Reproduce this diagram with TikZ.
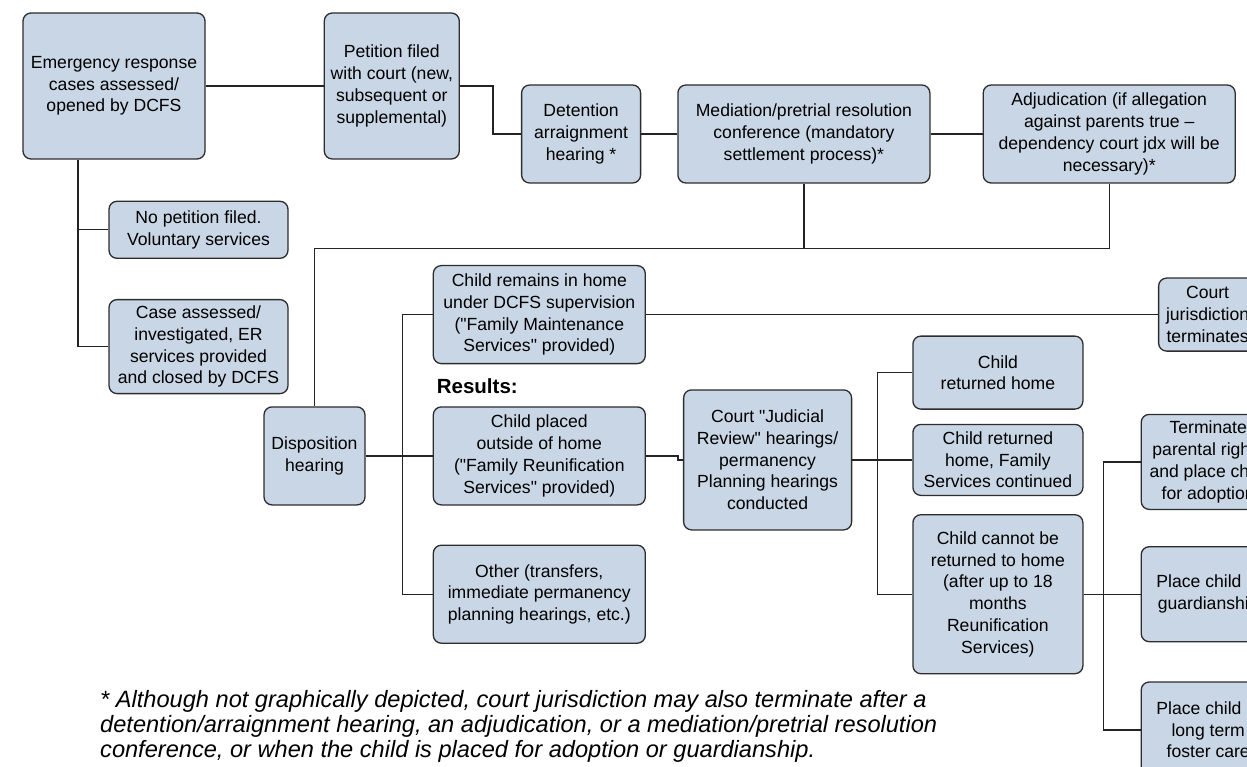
\documentclass[tikz,border=0pt]{standalone}
\usepackage{fontspec}
\setmainfont{Liberation Sans}
\newfontfamily\cajafont{Liberation Sans}
\usetikzlibrary{positioning}
\definecolor{figCaja}{RGB}{201,214,229}
\definecolor{figCajaBorde}{RGB}{45,45,45}
\definecolor{figLinea}{RGB}{35,35,35}
\tikzset{
  paso/.style={
    rectangle, rounded corners=8pt, draw=figCajaBorde, line width=1.3pt,
    fill=figCaja, align=center, font=\cajafont\fontsize{17.6}{21.7}\selectfont,
    inner sep=2pt
  },
  conector/.style={line width=1.4pt, draw=figLinea},
  titulo/.style={font=\fontsize{20.5}{24}\selectfont\bfseries, inner sep=0pt},
  nota/.style={align=left, inner sep=0pt, font=\fontsize{23.6}{24.6}\selectfont\itshape}
}

\begin{document}
\begin{tikzpicture}
  \useasboundingbox (0,0) rectangle (1247pt,-767pt);
  \clip (0,0) rectangle (1247pt,-767pt);

  % top row
  \node[paso, minimum width=182pt, minimum height=146pt] (emerg) at (114pt,-86pt) {Emergency response\\cases assessed/\\opened by DCFS};
  \node[paso, right=118pt of emerg, minimum width=135pt, minimum height=146pt] (petition) {Petition filed\\with court (new,\\subsequent or\\supplemental)};
  \node[paso, right=61pt of petition, yshift=-48pt, minimum width=119pt, minimum height=98pt] (detention) {Detention\\arraignment\\hearing *};
  \node[paso, right=36pt of detention, minimum width=252pt, minimum height=98pt] (mediation) {Mediation/pretrial resolution\\conference (mandatory\\settlement process)*};
  \node[paso, right=52pt of mediation, minimum width=252pt, minimum height=98pt] (adjud) {Adjudication (if allegation\\against parents true –\\dependency court jdx will be\\necessary)*};

  % left column
  \node[paso, below=41pt of emerg, xshift=84.5pt, minimum width=179pt, minimum height=57pt] (nopet) {No petition filed.\\Voluntary services};
  \node[paso, below=40pt of nopet, minimum width=179pt, minimum height=94pt] (caseass) {Case assessed/\\investigated, ER\\services provided\\and closed by DCFS};
  \node[paso, below=12pt of caseass, xshift=116pt, minimum width=101pt, minimum height=98pt] (dispo) {Disposition\\hearing};

  % results
  \node[paso, right=67pt of dispo, minimum width=212pt, minimum height=98pt] (placed) {Child placed\\outside of home\\("Family Reunification\\Services" provided)};
  \node[paso, above=42pt of placed, minimum width=212pt, minimum height=98pt] (remains) {Child remains in home\\under DCFS supervision\\("Family Maintenance\\Services" provided)};
  \node[paso, below=39pt of placed, minimum width=212pt, minimum height=98pt] (other) {Other (transfers,\\immediate permanency\\planning hearings, etc.)};
  \node[titulo, above=12pt of placed.north west, anchor=south west, xshift=4pt] (results) {Results:};
  \node[paso, right=37pt of placed, yshift=-4pt, minimum width=168pt, minimum height=140pt] (review) {Court "Judicial\\Review" hearings/\\permanency\\Planning hearings\\conducted};

  % review outcomes
  \node[paso, right=60pt of review, minimum width=170pt, minimum height=71pt] (home2) {Child returned\\home, Family\\Services continued};
  \node[paso, above=14pt of home2, minimum width=170pt, minimum height=73pt] (home1) {Child\\returned home};
  \node[paso, below=18pt of home2, minimum width=170pt, minimum height=159pt] (cannot) {Child cannot be\\returned to home\\(after up to 18\\months\\Reunification\\Services)};

  % right edge (cut by the page)
  \node[paso, right=512pt of remains, minimum width=98pt, minimum height=73pt] (courtj) {Court\\jurisdiction\\terminates};
  \node[paso, right=57pt of home2, yshift=-2pt, minimum width=134pt, minimum height=95pt] (terminate) {Terminate\\parental rights\\and place child\\for adoption};
  \node[paso, right=57pt of cannot, minimum width=134pt, minimum height=95pt] (guard) {Place child in\\guardianship};
  \node[paso, below=39pt of guard, minimum width=134pt, minimum height=96pt] (foster) {Place child in\\long term\\foster care};

  % connectors
  \draw[conector] (emerg) -- (petition);
  \draw[conector] (petition.east) -- ++(33pt,0) |- (detention.west);
  \draw[conector] (detention) -- (mediation);
  \draw[conector] (mediation) -- (adjud);
  \draw[conector] (mediation.south) -- ++(0,-65pt) coordinate (juntaMed);
  \draw[conector] (adjud.south) |- (juntaMed) -| (dispo.north);
  \draw[conector] ([xshift=-36pt]emerg.south) |- (nopet.west);
  \draw[conector] ([xshift=-36pt]emerg.south) |- (caseass.west);
  \draw[conector] (dispo) -- (placed);
  \draw[conector] (remains.west) -| ([xshift=37pt]dispo.east) |- (other.west);
  \draw[conector] (remains) -- (courtj);
  \draw[conector] (placed.east) -- ++(32pt,0) |- (review.west);
  \draw[conector] (review) -- (home2);
  \draw[conector] (home1.west) -| ([xshift=25pt]review.east) |- (cannot.west);
  \draw[conector] (cannot) -- (guard);
  \draw[conector] (terminate.west) -| ([xshift=20pt]cannot.east) |- (foster.west);

  % footnote
  \node[nota, anchor=base west] (pie) at (100pt,-757pt) {* Although not graphically depicted, court jurisdiction may also terminate after a\\detention/arraignment hearing, an adjudication, or a mediation/pretrial resolution\\conference, or when the child is placed for adoption or guardianship.};
\end{tikzpicture}
\end{document}
